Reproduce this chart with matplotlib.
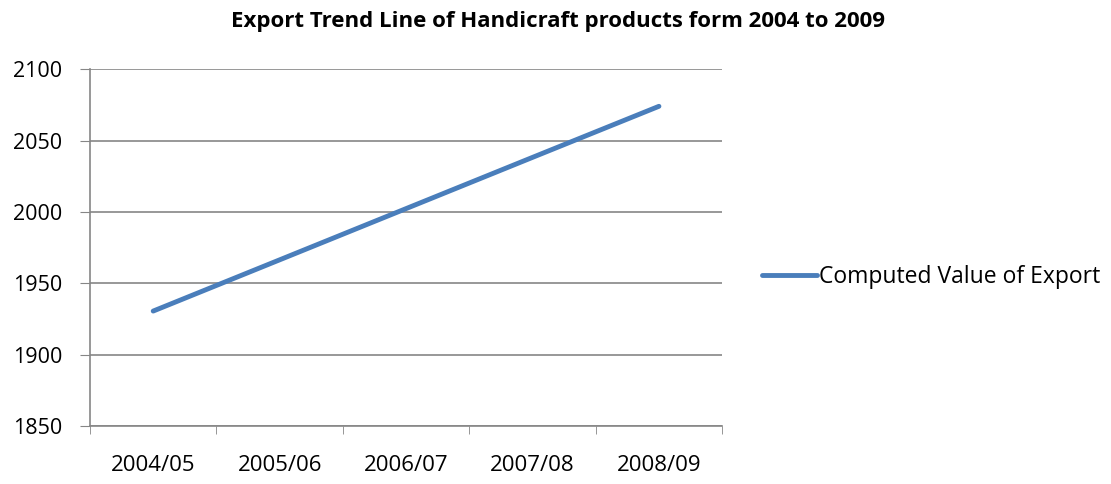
import matplotlib
matplotlib.use('Agg')
import matplotlib.pyplot as plt

years = ['2004/05', '2005/06', '2006/07', '2007/08', '2008/09']
computed_export = [1930.5, 1966.4, 2002.3, 2038.2, 2074.0]

plt.rcParams['font.family'] = ['Open Sans', 'DejaVu Sans']

fig = plt.figure(figsize=(11.11, 4.84), dpi=100)
ax = fig.add_axes([0.081, 0.12, 0.569, 0.737])

x = list(range(len(years)))
ax.plot(x, computed_export, color='#4a7ebb', linewidth=3.5,
        solid_capstyle='round', label='Computed Value of Export')

ax.set_xlim(-0.5, len(years) - 0.5)
ax.set_ylim(1850, 2100)
ax.set_yticks(range(1850, 2101, 50))
ax.set_xticks(x)
ax.set_xticklabels(years)
ax.set_xticks([i - 0.5 for i in range(len(years) + 1)], minor=True)
ax.tick_params(axis='x', which='major', length=0, pad=21, labelsize=16)
ax.tick_params(axis='x', which='minor', length=6, color='#868686')
ax.tick_params(axis='y', length=7, color='#868686', labelsize=15.5, pad=13)

ax.grid(axis='y', color='#868686', linewidth=1.2)
ax.set_axisbelow(True)
for s in ['top', 'right']:
    ax.spines[s].set_visible(False)
for s in ['left', 'bottom']:
    ax.spines[s].set_color('#868686')
    ax.spines[s].set_linewidth(1.2)

fig.suptitle('Export Trend Line of Handicraft products form 2004 to 2009',
             x=0.502, y=0.978, fontsize=16, fontweight='bold')

fig.legend(loc='center left', bbox_to_anchor=(0.667, 0.428), frameon=False,
           fontsize=16.5, handlelength=2.4, handletextpad=0.1)

fig.savefig('out.png', dpi=100)
